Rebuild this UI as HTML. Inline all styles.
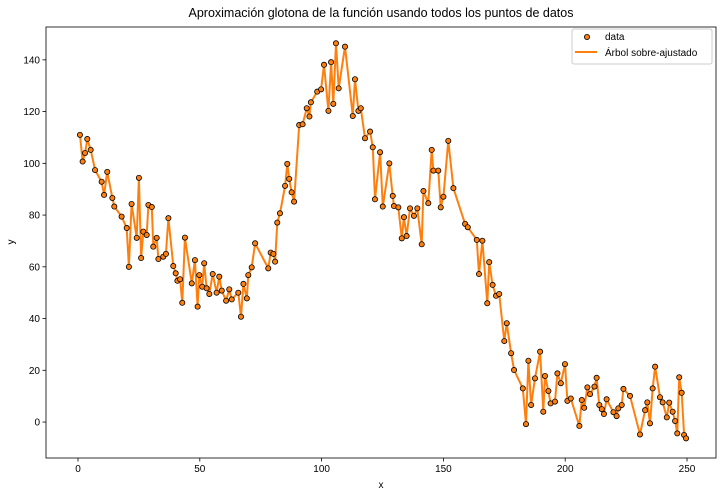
<!DOCTYPE html>
<html><head><meta charset="utf-8"><style>
body{margin:0;background:#fff;}
svg{display:block;font-family:"Liberation Sans","DejaVu Sans",sans-serif;}
</style></head><body>
<svg id="chart" width="724" height="496" viewBox="0 0 724 496" xmlns="http://www.w3.org/2000/svg">
<rect width="724" height="496" fill="#fff"/>
<text x="381" y="17" text-anchor="middle" font-size="12.5">Aproximación glotona de la función usando todos los puntos de datos</text>
<g id="plot"></g>
<text x="381" y="488" text-anchor="middle" font-size="10">x</text>
<text transform="translate(14,242) rotate(-90)" text-anchor="middle" font-size="10">y</text>
<g>
<rect x="572" y="29" width="140" height="35" rx="2" fill="#fff" stroke="#ccc" stroke-width="1"/>
<circle cx="587" cy="37" r="2.6" fill="#ff7f0e" stroke="#000" stroke-width="0.8"/>
<text x="605" y="40" font-size="10">data</text>
<line x1="575" y1="52" x2="597" y2="52" stroke="#ff7f0e" stroke-width="2"/>
<text x="605" y="56" font-size="10">Árbol sobre-ajustado</text>
</g>
</svg>
<script>
const xs=[0.8,1.9,2.9,3.8,5.2,7.0,9.7,10.7,12.0,14.1,14.9,17.9,20.0,20.9,22.0,24.1,25.0,25.9,26.8,28.2,28.9,30.3,30.9,32.3,33.0,35.0,36.1,37.1,39.1,40.1,40.8,41.9,42.8,43.9,46.7,48.0,49.1,49.8,51.0,51.8,52.8,53.9,55.3,56.9,58.0,59.0,60.8,62.1,63.1,65.8,66.9,67.9,69.3,69.9,71.3,72.7,78.1,79.1,80.2,80.9,81.8,82.9,85.0,85.9,86.7,87.7,88.7,90.8,92.2,93.9,95.0,95.6,98.2,99.8,101.0,102.8,103.9,104.8,105.9,107.0,109.6,112.8,113.7,115.1,116.1,117.8,119.9,121.0,121.9,124.0,125.1,127.8,129.2,129.7,131.5,132.9,133.8,134.9,136.3,137.9,139.3,141.1,141.8,143.8,145.2,145.9,147.9,148.9,150.0,152.0,154.1,158.9,160.0,163.7,164.6,166.0,168.0,168.8,170.2,171.6,172.9,175.0,176.0,177.8,179.0,182.6,183.9,184.9,186.0,187.6,189.7,191.0,191.7,193.1,194.0,195.8,196.8,198.2,199.9,200.9,202.3,205.8,206.8,207.8,209.1,210.2,212.0,212.9,214.0,215.0,215.9,217.0,219.8,221.1,221.8,223.2,223.9,226.6,230.7,232.8,233.7,234.8,235.9,236.9,238.9,240.0,241.7,242.7,244.1,245.1,246.0,246.8,247.8,248.8,249.6];
const ys=[111,100.7,104,109.4,105.2,97.4,92.9,87.8,96.7,86.6,83.3,79.4,75.0,60,84.3,71.2,94.4,63.4,73.6,72.3,83.9,83.1,67.8,71.2,63.0,63.9,65,78.8,60.3,57.5,54.6,55.2,46.1,71.3,53.6,62.6,44.6,56.8,52.3,61.4,51.7,49.5,57.2,50.0,56.2,50.8,46.9,51.3,47.4,50.0,40.7,53.4,47.8,56.8,59.8,69.1,59.4,65.5,65.0,62.0,77.1,80.7,91.3,99.8,94.0,88.8,85.2,114.8,115.1,121.3,118.1,123.6,127.7,128.6,138.1,120.3,139.1,123.0,146.4,129.0,145.1,118.3,132.5,120.3,121.3,109.7,112.3,106.2,86.1,104.3,83.3,100.0,87.4,83.5,83.0,71.0,79.2,71.9,82.6,79.7,82.6,68.7,89.3,84.6,105.2,97.2,97.2,83.0,87.1,108.7,90.4,76.6,75.3,70.4,57.2,70.1,45.9,61.8,53.0,48.8,49.5,31.3,38.2,26.6,20.1,13.0,-0.8,23.7,6.6,16.9,27.2,4.0,17.8,12.0,7.2,7.9,18.8,15.0,22.4,8.2,9.1,-1.5,8.5,5.5,13.4,10.8,13.7,17.1,6.6,5.0,3.1,8.8,3.8,2.3,5.3,6.6,12.8,10.1,-4.8,4.6,7.6,-0.5,13.0,21.4,9.6,7.6,1.8,7.5,4.0,0.4,-4.4,17.3,11.3,-5.0,-6.3];
const xTicks=[0,50,100,150,200,250];
const yTicks=[0,20,40,60,80,100,120,140];
const L=46,R=716,T=27,B=458;
const X0=-13.14,X1=261.9,Y0=-13.9,Y1=152.7;
const sx=v=>L+(v-X0)/(X1-X0)*(R-L);
const sy=v=>B-(v-Y0)/(Y1-Y0)*(B-T);
const NS='http://www.w3.org/2000/svg';
const g=document.getElementById('plot');
function mk(t,a){const e=document.createElementNS(NS,t);for(const k in a)e.setAttribute(k,a[k]);g.appendChild(e);return e;}
xTicks.forEach(t=>{
  const l=mk('line',{x1:sx(t),x2:sx(t),y1:B,y2:B+3.5,stroke:'#000','stroke-width':0.8});
  
  
  const tx=mk('text',{x:sx(t),y:B+14,'text-anchor':'middle','font-size':10});
  tx.textContent=t;
  
  
});
yTicks.forEach(t=>{
  const l=mk('line',{x1:L-3.5,x2:L,y1:sy(t),y2:sy(t),stroke:'#000','stroke-width':0.8});
  
  
  const tx=mk('text',{x:L-6,y:sy(t)+3.5,'text-anchor':'end','font-size':10});
  tx.textContent=t;
  
  
});
const pts=xs.map((x,i)=>sx(x).toFixed(1)+','+sy(ys[i]).toFixed(1)).join(' ');
const line=mk('polyline',{points:pts,fill:'none',stroke:'#ff7f0e','stroke-width':2,'stroke-linejoin':'round'});


xs.forEach((x,i)=>{
  const c=mk('circle',{cx:sx(x),cy:sy(ys[i]),r:2.6,fill:'#ff7f0e',stroke:'#000','stroke-width':0.8});
  
  
});
const frame=mk('rect',{x:L,y:T,width:R-L,height:B-T,fill:'none',stroke:'#000','stroke-width':0.8});


</script>
</body></html>
